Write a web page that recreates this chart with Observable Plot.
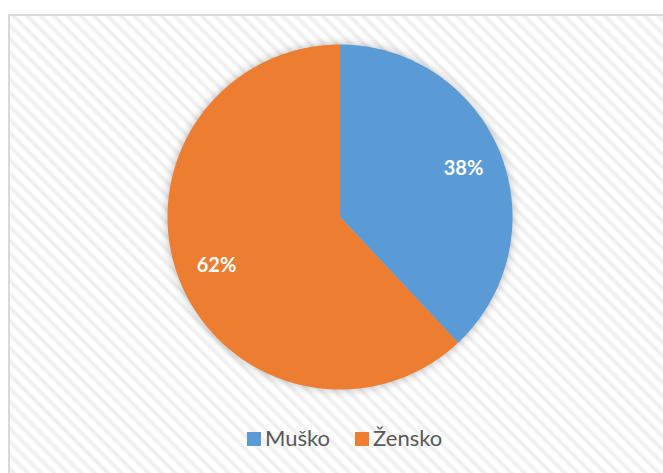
<!DOCTYPE html>
<html>
<head>
<meta charset="utf-8">
<script src="https://cdn.jsdelivr.net/npm/d3@7"></script>
<script src="https://cdn.jsdelivr.net/npm/@observablehq/plot@0.6"></script>
<style>
  html, body { margin: 0; padding: 0; background: #fff; }
  #wrap {
    position: relative; width: 663px; height: 473px; overflow: hidden;
    font-family: Lato, "Open Sans", sans-serif;
  }
  #frame {
    position: absolute; left: 8px; top: 14px; width: 700px; height: 500px;
    border-left: 2px solid #d9d9d9; border-top: 2px solid #d9d9d9;
    background: repeating-linear-gradient(45deg, #ffffff 0px, #ffffff 1.5px, #ececec 4.75px, #ffffff 8px, #ffffff 9.5px);
  }
  #chart { position: absolute; left: 0; top: 0; }
  #chart svg { background: transparent !important; }
  #chart .slices { filter: drop-shadow(0 0 5px rgba(0,0,0,0.28)); }
  #legend {
    position: absolute; left: 247px; top: 424px; text-align: left;
    font-size: 22px; color: #595959; white-space: nowrap;
  }
  #legend span.item { display: inline-block; margin-right: 25px; }
  #legend span.sw { display: inline-block; width: 14px; height: 14px; margin-right: 4px; vertical-align: 0px; }
</style>
</head>
<body>
<div id="wrap">
  <div id="frame"></div>
  <div id="chart"></div>
  <div id="legend"></div>
</div>
<script>
const categories = ["Muško", "Žensko"];
const shares = [38, 62];
const labels = ["38%", "62%"];
const colors = ["#5B9BD5", "#ED7D31"];

// Build slice outlines (angles measured clockwise from the top) from the data
const total = d3.sum(shares);
const pts = [];
const labelPts = [];
let acc = 0;
categories.forEach((cat, i) => {
  const a0 = acc / total * 2 * Math.PI;
  acc += shares[i];
  const a1 = acc / total * 2 * Math.PI;
  pts.push({cat, x: 0, y: 0});
  const n = Math.max(2, Math.ceil((a1 - a0) / (Math.PI / 180)));
  for (let k = 0; k <= n; k++) {
    const a = a0 + (a1 - a0) * k / n;
    pts.push({cat, x: Math.sin(a), y: Math.cos(a)});
  }
  const am = (a0 + a1) / 2;
  const r = 0.77;
  labelPts.push({cat, label: labels[i], x: r * Math.sin(am), y: r * Math.cos(am)});
});

const W = 663, H = 420;
const plot = Plot.plot({
  width: W, height: H,
  marginLeft: 167, marginRight: 151, marginTop: 44, marginBottom: 31,
  x: {domain: [-1, 1], axis: null},
  y: {domain: [-1, 1], axis: null},
  color: {domain: categories, range: colors},
  style: {background: "transparent", overflow: "visible"},
  marks: [
    Plot.line(pts, {x: "x", y: "y", z: "cat", fill: "cat", stroke: "none", curve: "linear-closed", className: "slices"}),
    Plot.text(labelPts, {x: "x", y: "y", text: "label", fill: "white", fontSize: 20, fontWeight: "bold", fontFamily: "Lato, sans-serif"})
  ]
});
document.getElementById("chart").appendChild(plot);

const legend = document.getElementById("legend");
categories.forEach((cat, i) => {
  const item = document.createElement("span");
  item.className = "item";
  const sw = document.createElement("span");
  sw.className = "sw";
  sw.style.background = colors[i];
  item.appendChild(sw);
  item.appendChild(document.createTextNode(cat));
  legend.appendChild(item);
});
</script>
</body>
</html>
